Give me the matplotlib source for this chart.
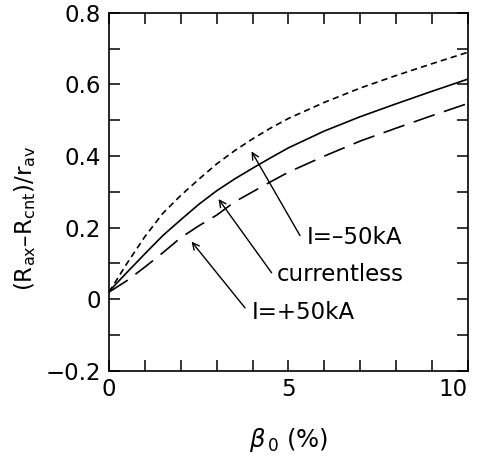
import matplotlib
matplotlib.use("Agg")
import matplotlib.pyplot as plt
from matplotlib.ticker import MultipleLocator, FixedLocator

plt.rcParams['font.family'] = ['DejaVu Sans']
plt.rcParams['mathtext.fontset'] = 'dejavusans'
plt.rcParams['lines.scale_dashes'] = False

# beta_0 (%) sample points
beta = [0, 0.5, 1, 1.5, 2, 2.5, 3, 3.5, 4, 4.5, 5, 6, 7, 8, 9, 10]
# currentless
shift_0 = [0.022, 0.075, 0.127, 0.178, 0.222, 0.265, 0.303, 0.336, 0.366,
           0.395, 0.423, 0.47, 0.51, 0.546, 0.581, 0.615]
# I = -50 kA
shift_neg = [0.02, 0.10, 0.175, 0.24, 0.29, 0.335, 0.378, 0.415, 0.448,
             0.478, 0.505, 0.55, 0.59, 0.625, 0.658, 0.69]
# I = +50 kA
shift_pos = [0.02, 0.052, 0.09, 0.13, 0.172, 0.205, 0.235, 0.272, 0.30,
             0.328, 0.355, 0.40, 0.442, 0.478, 0.513, 0.547]

fig = plt.figure(figsize=(4.78, 4.59), dpi=100)
ax = fig.add_axes([0.228, 0.192, 0.751, 0.780])

ax.plot(beta, shift_0, color='black', lw=1.2)
ax.plot(beta, shift_neg, color='black', lw=1.2, dashes=(4.5, 3))
ax.plot(beta, shift_pos, color='black', lw=1.2, dashes=(16, 7))

ax.set_xlim(0, 10)
ax.set_ylim(-0.2, 0.8)
ax.xaxis.set_major_locator(FixedLocator([0, 5, 10]))
ax.xaxis.set_minor_locator(MultipleLocator(1))
ax.yaxis.set_major_locator(FixedLocator([-0.2, 0, 0.2, 0.4, 0.6, 0.8]))
ax.yaxis.set_minor_locator(MultipleLocator(0.1))
ax.set_xticklabels(['0', '5', '10'])
ax.set_yticklabels(['\u22120.2', '0', '0.2', '0.4', '0.6', '0.8'])
ax.tick_params(which='both', direction='in', length=8, width=1.1,
               top=True, right=True, labelsize=16.5)
ax.tick_params(axis='y', pad=6)
ax.tick_params(axis='x', pad=5)
ax.get_xticklabels()[-1].set_horizontalalignment('right')
for s in ax.spines.values():
    s.set_linewidth(1.2)

ax.set_xlabel(r'$\beta_{\,\mathregular{0}}$ (%)', fontsize=17.5, labelpad=18)
fig.text(25 / 478, 1 - 218 / 459,
         '(R$_{\\mathregular{ax}}$\u2013R$_{\\mathregular{cnt}}$)/r$_{\\mathregular{av}}$',
         fontsize=16.5, rotation=90, ha='center', va='center')

arrow = dict(arrowstyle='->', lw=1.0, color='black', shrinkA=0, shrinkB=0,
             mutation_scale=12)
ax.annotate('', xy=(3.97, 0.413), xytext=(5.32, 0.178), arrowprops=arrow)
ax.text(5.5, 0.172, 'I=\u201350kA', fontsize=16.5, ha='left', va='center')
ax.annotate('', xy=(3.05, 0.28), xytext=(4.53, 0.074), arrowprops=arrow)
ax.text(4.68, 0.068, 'currentless', fontsize=16.5, ha='left', va='center')
ax.annotate('', xy=(2.30, 0.161), xytext=(3.79, -0.024), arrowprops=arrow)
ax.text(3.98, -0.038, 'I=+50kA', fontsize=16.5, ha='left', va='center')

fig.savefig('out.png', dpi=100)
